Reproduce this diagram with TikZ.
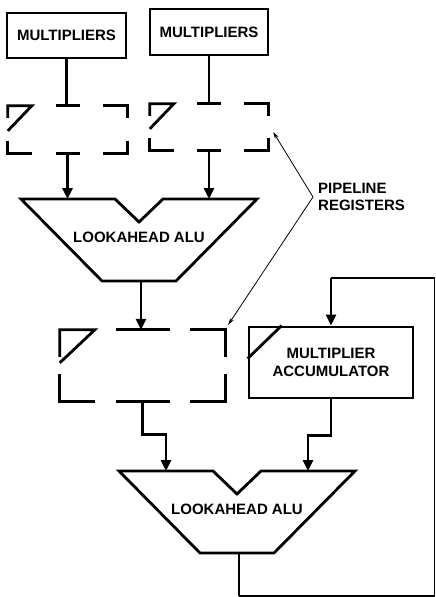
\documentclass[tikz,border=0pt]{standalone}
\usepackage{fontspec}
\setmainfont{Liberation Sans}
\usepackage{tikz}
\usetikzlibrary{arrows.meta, calc, positioning}

% broken register outline: #1 node, #2 corner length, #3 half middle, #4 corner height, #5 clock mark height
\newcommand{\pipereg}[5]{%
  \draw[wire] ($(#1.north west)+(0,#4)$) -- (#1.north west) -- ++(#2,0) -- ($(#1.north west)+(0,#5)$);
  \draw[wire] ($(#1.north)+(-#3,0)$) -- ($(#1.north)+(#3,0)$);
  \draw[wire] ($(#1.north east)+(-#2,0)$) -- (#1.north east) -- ++(0,#4);
  \draw[wire] ($(#1.south east)+(0,-#4)$) -- (#1.south east) -- ++(-#2,0);
  \draw[wire] ($(#1.south)+(-#3,0)$) -- ($(#1.south)+(#3,0)$);
  \draw[wire] ($(#1.south west)+(#2,0)$) -- (#1.south west) -- ++(0,-#4);
}
% lookahead alu outline round node #1
\newcommand{\alushape}[1]{%
  \draw[wire] ($(#1)+(-118,-38)$) -- ($(#1)+(-24,-38)$) -- ($(#1)+(0,-15)$) -- ($(#1)+(24,-38)$)
    -- ($(#1)+(118,-38)$) -- ($(#1)+(37,44)$) -- ($(#1)+(-37,44)$) -- cycle;
  \coordinate (#1-l) at ($(#1)+(-71,-38)$);
  \coordinate (#1-r) at ($(#1)+(71,-38)$);
  \coordinate (#1-out) at ($(#1)+(2,44)$);
}

\begin{document}
\begin{tikzpicture}[x=1pt, y=-1pt, font=\fontsize{15}{17.5}\selectfont\bfseries]
  \tikzset{
    wire/.style={line width=2.8pt},
    flow/.style={wire, -{Triangle[width=10pt,length=11pt]}},
    fbwire/.style={line width=1.8pt},
    pointer/.style={line width=0.8pt, -{Stealth[width=4pt,length=7pt]}},
    block/.style={draw, line width=2.8pt, rectangle, inner sep=0pt, align=center},
    regbox/.style={rectangle, inner sep=0pt},
    alutext/.style={inner sep=0pt}
  }
  \useasboundingbox (0,0) rectangle (436,597);

  % multipliers and first registers
  \node[block, minimum width=119pt, minimum height=45pt] (mult1) at (66.5,35.5) {MULTIPLIERS};
  \node[block, minimum width=118pt, minimum height=46pt] (mult2) at (209,32) {MULTIPLIERS};
  \node[regbox, minimum width=119pt, minimum height=47pt] (reg1) at (67.5,129.5) {};
  \node[regbox, minimum width=118pt, minimum height=46pt] (reg2) at (209,127) {};
  \pipereg{reg1}{24}{12}{12}{25}
  \pipereg{reg2}{24}{12}{12}{25}

  % first alu
  \node[alutext] (alu1) at (139,237) {LOOKAHEAD ALU};
  \alushape{alu1}

  % second stage
  \node[regbox, minimum width=165pt, minimum height=71pt] (reg3) at (142.5,365.5) {};
  \pipereg{reg3}{35}{27}{27}{33}
  \node[block, minimum width=164pt, minimum height=71pt] (mac) at (331,362.5) {MULTIPLIER\\ACCUMULATOR};
  \draw[wire] ($(mac.north west)+(0,33)$) -- ($(mac.north west)+(34,0)$);

  \node[alutext] (alu2) at (237,509) {LOOKAHEAD ALU};
  \alushape{alu2}

  \node[alutext, anchor=west, align=left, inner sep=5pt] (plabel) at (313,197) {PIPELINE\\REGISTERS};

  % connectors
  \draw[wire] (mult1.south) -- (mult1.south |- reg1.north);
  \draw[wire] (mult2.south) -- (mult2.south |- reg2.north);
  \draw[flow] (reg1.south) -- (reg1.south |- alu1-l);
  \draw[flow] (reg2.south) -- (reg2.south |- alu1-r);
  \draw[flow] (alu1-out) -- (alu1-out |- reg3.north);
  \draw[flow] (reg3.south) -- ++(0,33) -| (alu2-l);
  \draw[flow] (mac.south) -- ++(0,36) -| (alu2-r);

  % output and feedback
  \coordinate (outend) at (239,596);
  \coordinate (fbtop) at (434.5,278);
  \draw[wire] (alu2-out) -- (outend);
  \draw[fbwire] (outend) -| (fbtop) -- (fbtop -| mac.north);
  \draw[flow] (fbtop -| mac.north) -- (mac.north);

  \draw[pointer] (plabel.west) -- ($(reg2.east)+(5,5)$);
  \draw[pointer] (plabel.west) -- ($(reg3.north east)+(3,-5)$);
\end{tikzpicture}
\end{document}
